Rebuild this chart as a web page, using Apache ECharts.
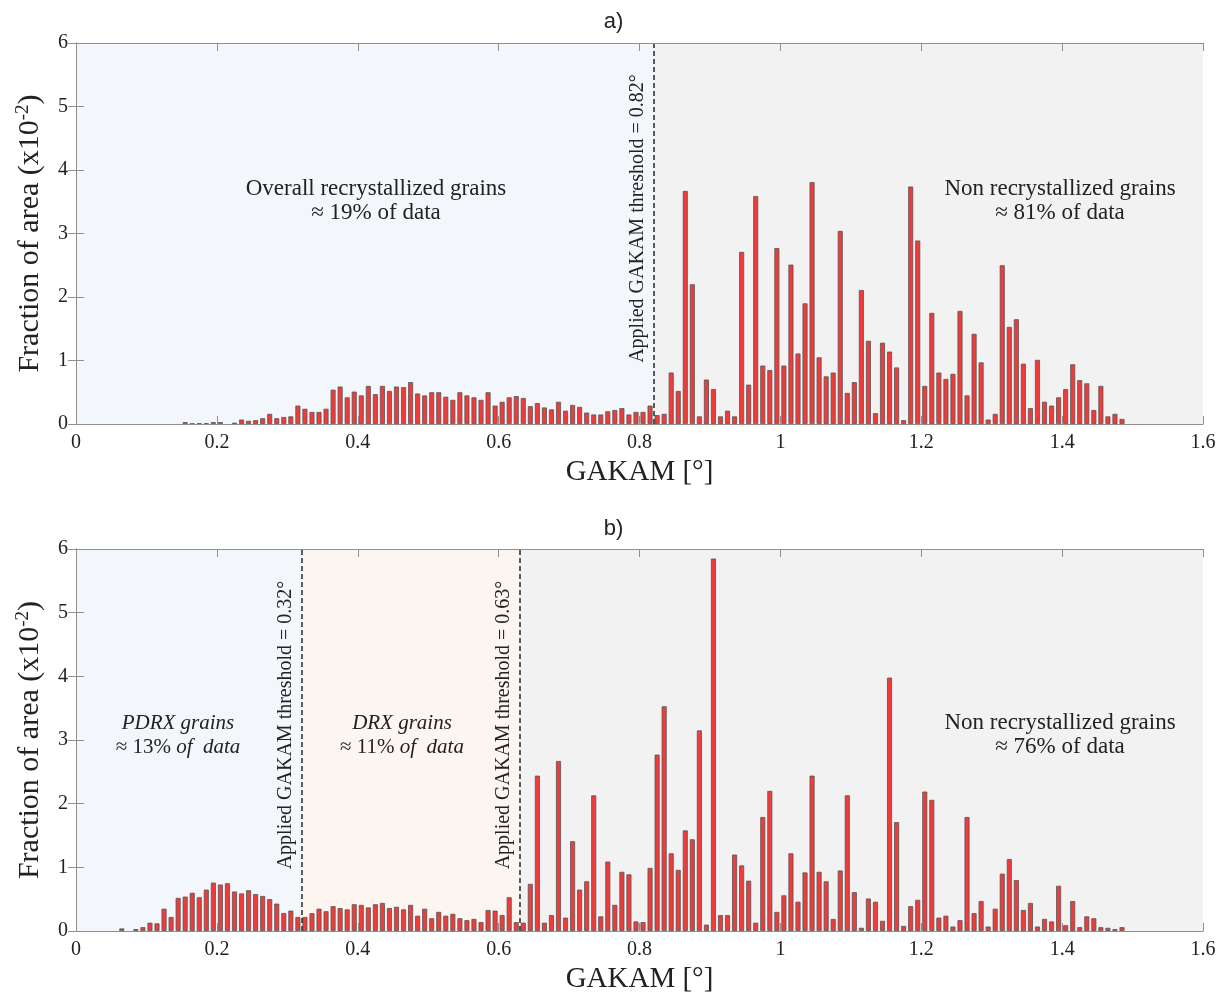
<!DOCTYPE html>
<html>
<head>
<meta charset="utf-8">
<script src="https://cdn.jsdelivr.net/npm/echarts@6/dist/echarts.min.js"></script>
<style>
  html, body { margin: 0; padding: 0; background: #fff; }
  #main { width: 1227px; height: 997px; }
</style>
</head>
<body>
<div id="main"></div>
<script>
// fraction of area (x10^-2) per 0.01 GAKAM bin, bins 0.00-0.01 ... 1.49-1.50
var valuesA = [
  0, 0, 0, 0, 0, 0, 0, 0, 0, 0,
  0, 0, 0, 0, 0, 0.03, 0.005, 0.01, 0.01, 0.03,
  0.03, 0, 0.02, 0.07, 0.05, 0.06, 0.09, 0.16, 0.09, 0.11,
  0.12, 0.29, 0.24, 0.19, 0.19, 0.24, 0.54, 0.59, 0.42, 0.51,
  0.45, 0.60, 0.47, 0.60, 0.52, 0.59, 0.58, 0.66, 0.48, 0.45,
  0.50, 0.50, 0.43, 0.38, 0.50, 0.45, 0.42, 0.38, 0.50, 0.29,
  0.35, 0.42, 0.44, 0.41, 0.28, 0.33, 0.26, 0.23, 0.35, 0.21,
  0.30, 0.27, 0.18, 0.15, 0.15, 0.20, 0.22, 0.25, 0.15, 0.19,
  0.19, 0.29, 0.14, 0.16, 0.81, 0.52, 3.67, 2.20, 0.12, 0.70,
  0.55, 0.12, 0.21, 0.12, 2.71, 0.62, 3.59, 0.92, 0.85, 2.77,
  0.92, 2.51, 1.11, 1.90, 3.81, 1.05, 0.75, 0.81, 3.04, 0.49,
  0.66, 2.11, 1.31, 0.17, 1.28, 1.14, 0.89, 0.06, 3.74, 2.89,
  0.60, 1.75, 0.81, 0.71, 0.79, 1.78, 0.45, 1.42, 0.97, 0.07,
  0.16, 2.50, 1.53, 1.65, 0.95, 0.25, 1.01, 0.35, 0.29, 0.42,
  0.55, 0.94, 0.69, 0.64, 0.22, 0.60, 0.12, 0.16, 0.08, 0
];
var valuesB = [
  0, 0, 0, 0, 0, 0, 0.04, 0, 0.03, 0.06,
  0.13, 0.12, 0.35, 0.22, 0.52, 0.54, 0.60, 0.53, 0.65, 0.76,
  0.73, 0.75, 0.62, 0.59, 0.64, 0.58, 0.55, 0.50, 0.43, 0.28,
  0.32, 0.22, 0.22, 0.28, 0.35, 0.31, 0.39, 0.36, 0.34, 0.42,
  0.41, 0.37, 0.42, 0.44, 0.36, 0.38, 0.34, 0.41, 0.24, 0.35,
  0.20, 0.30, 0.24, 0.27, 0.20, 0.17, 0.19, 0.14, 0.33, 0.32,
  0.25, 0.53, 0.14, 0.13, 0.74, 2.44, 0.13, 0.25, 2.67, 0.21,
  1.41, 0.65, 0.78, 2.13, 0.23, 1.09, 0.41, 0.93, 0.89, 0.15,
  0.14, 0.99, 2.77, 3.53, 1.22, 0.96, 1.58, 1.44, 3.15, 0.10,
  5.85, 0.25, 0.25, 1.20, 1.03, 0.79, 0.13, 1.79, 2.20, 0.30,
  0.56, 1.22, 0.46, 0.92, 2.44, 0.93, 0.78, 0.19, 0.95, 2.13,
  0.61, 0.05, 0.51, 0.46, 0.16, 3.98, 1.71, 0.08, 0.39, 0.49,
  2.19, 2.06, 0.21, 0.24, 0.07, 0.17, 1.79, 0.28, 0.47, 0.07,
  0.35, 0.90, 1.13, 0.80, 0.33, 0.44, 0.07, 0.19, 0.15, 0.71,
  0.09, 0.47, 0.06, 0.23, 0.20, 0.06, 0.05, 0.03, 0.06, 0
];
var binWidth = 0.01;
var thresholdsA = [0.82];
var thresholdsB = [0.32, 0.63];

var serif = '"Liberation Serif", "Times New Roman", serif';
var barRed = '#f03b3b';
var blueBg = '#f3f7fb';
var peachBg = '#fcf5f0';
var grayBg = '#f2f2f2';
var axisGray = '#8f8f8f';

function toPairs(values) {
  var out = [];
  for (var i = 0; i < values.length; i++) {
    if (values[i] > 0) {
      out.push([+(binWidth * i + binWidth / 2).toFixed(3), values[i]]);
    }
  }
  return out;
}

function thresholdLines(list) {
  return list.map(function(t) {
    return {
      xAxis: t,
      label: { formatter: 'Applied GAKAM threshold = ' + t.toFixed(2) + '°' }
    };
  });
}

function xAxes(grid) {
  return [{
    gridIndex: grid, type: 'value', position: 'bottom', z: 20,
    min: 0, max: 1.6, interval: 0.2,
    name: 'GAKAM [°]', nameLocation: 'middle', nameGap: 34,
    nameTextStyle: { fontFamily: serif, fontSize: 29, color: '#222' },
    axisLine: { show: true, onZero: false, lineStyle: { color: axisGray } },
    axisTick: { inside: true, length: 8, lineStyle: { color: axisGray } },
    axisLabel: { fontFamily: serif, fontSize: 20, color: '#222', margin: 9,
      formatter: function(v) { return String(+v.toFixed(1)); } },
    splitLine: { show: false }
  }, {
    gridIndex: grid, type: 'value', position: 'top', z: 20,
    min: 0, max: 1.6, interval: 0.2,
    axisLine: { show: true, onZero: false, lineStyle: { color: axisGray } },
    axisTick: { inside: true, length: 8, lineStyle: { color: axisGray } },
    axisLabel: { show: false },
    splitLine: { show: false }
  }];
}

function yAxes(grid) {
  return [{
    gridIndex: grid, type: 'value', position: 'left', z: 20,
    min: 0, max: 6, interval: 1,
    name: 'Fraction of area (x10{sup|-2})', nameLocation: 'middle', nameGap: 17,
    nameRotate: 90,
    nameTextStyle: {
      fontFamily: serif, fontSize: 30, color: '#222', lineHeight: 34,
      rich: { sup: { fontFamily: serif, fontSize: 19, color: '#222', verticalAlign: 'top', lineHeight: 18 } }
    },
    axisLine: { show: true, lineStyle: { color: axisGray } },
    axisTick: { inside: true, length: 8, lineStyle: { color: axisGray } },
    axisLabel: { fontFamily: serif, fontSize: 20, color: '#222', margin: 8 },
    splitLine: { show: false }
  }, {
    gridIndex: grid, type: 'value', position: 'right', z: 20,
    min: 0, max: 6, interval: 1,
    axisLine: { show: true, lineStyle: { color: axisGray } },
    axisTick: { inside: true, length: 8, lineStyle: { color: axisGray } },
    axisLabel: { show: false },
    splitLine: { show: false }
  }];
}

function barSeries(values, axisIdx, areas, lines) {
  return {
    type: 'bar',
    xAxisIndex: axisIdx, yAxisIndex: axisIdx,
    data: toPairs(values),
    barWidth: 5,
    itemStyle: { color: barRed, borderColor: '#555', borderWidth: 0.8 },
    silent: true,
    markArea: { silent: true, data: areas },
    markLine: {
      silent: true, symbol: 'none',
      lineStyle: { color: '#333', type: [5, 3], width: 1.6 },
      label: {
        position: 'insideMiddleTop', distance: 6,
        fontFamily: serif, fontSize: 20, color: '#222',
        padding: [0, 0, 0, 30]
      },
      data: thresholdLines(lines)
    }
  };
}

var chartDom = document.getElementById('main');
var myChart = echarts.init(chartDom);

var noteRich = {
  i: { fontFamily: serif, fontSize: 21, fontStyle: 'italic', fill: '#222' },
  n: { fontFamily: serif, fontSize: 21, fill: '#222' }
};
function note(x, y, text, size) {
  return {
    type: 'text', x: x, y: y, z: 100, silent: true,
    style: {
      text: text, align: 'center', verticalAlign: 'middle',
      fontFamily: serif, fontSize: size, fill: '#222', lineHeight: 24,
      rich: noteRich
    }
  };
}

var option = {
  animation: false,
  title: [
    { text: 'a)', left: 'center', top: 6,
      textStyle: { fontFamily: '"Liberation Sans", sans-serif', fontSize: 22, fontWeight: 'normal', color: '#222' } },
    { text: 'b)', left: 'center', top: 513,
      textStyle: { fontFamily: '"Liberation Sans", sans-serif', fontSize: 22, fontWeight: 'normal', color: '#222' } }
  ],
  grid: [
    { left: 76, top: 43, width: 1127, height: 381 },
    { left: 76, top: 549, width: 1127, height: 382 }
  ],
  xAxis: xAxes(0).concat(xAxes(1)),
  yAxis: yAxes(0).concat(yAxes(1)),
  series: [
    barSeries(valuesA, 0, [
      [{ xAxis: 0, itemStyle: { color: blueBg } }, { xAxis: thresholdsA[0] }],
      [{ xAxis: thresholdsA[0], itemStyle: { color: grayBg } }, { xAxis: 1.6 }]
    ], thresholdsA),
    barSeries(valuesB, 2, [
      [{ xAxis: 0, itemStyle: { color: blueBg } }, { xAxis: thresholdsB[0] }],
      [{ xAxis: thresholdsB[0], itemStyle: { color: peachBg } }, { xAxis: thresholdsB[1] }],
      [{ xAxis: thresholdsB[1], itemStyle: { color: grayBg } }, { xAxis: 1.6 }]
    ], thresholdsB)
  ],
  graphic: {
    elements: [
      note(376, 201, 'Overall recrystallized grains\n≈ 19% of data', 23),
      note(1060, 201, 'Non recrystallized grains\n≈ 81% of data', 23),
      note(178, 735, '{i|PDRX grains}\n{n|≈ 13%} {i|of  data}', 21),
      note(402, 735, '{i|DRX grains}\n{n|≈ 11%} {i|of  data}', 21),
      note(1060, 735, 'Non recrystallized grains\n≈ 76% of data', 23)
    ]
  }
};

myChart.setOption(option);
</script>
</body>
</html>
